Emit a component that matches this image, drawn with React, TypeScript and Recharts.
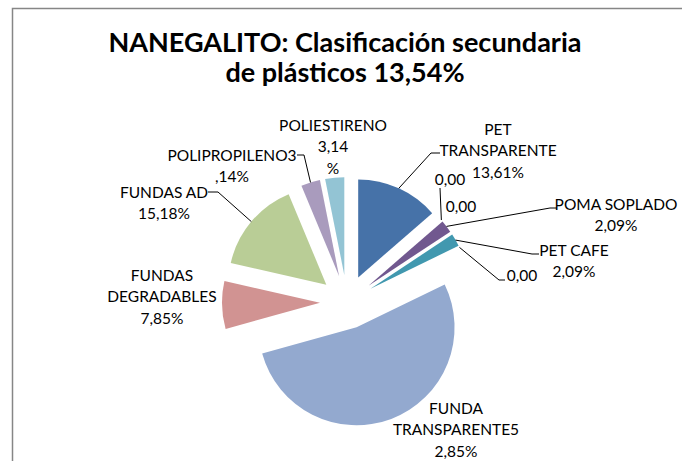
import React from 'react';
import { PieChart, Pie, Cell, Sector } from 'recharts';

// ---- data ----
const CATEGORIES = [
  'PET TRANSPARENTE', 'Otro 1', 'Otro 2', 'POMA SOPLADO', 'PET CAFE', 'Otro 3',
  'FUNDA TRANSPARENTE', 'FUNDAS DEGRADABLES', 'FUNDAS AD', 'POLIPROPILENO', 'POLIESTIRENO',
];
const VALUES = [13.61, 0, 0, 2.09, 2.09, 0, 52.85, 7.85, 15.18, 3.14, 3.14];
const LABEL_LINES = [
  ['PET', 'TRANSPARENTE', '13,61%'],
  ['0,00'],
  ['0,00'],
  ['POMA SOPLADO', '2,09%'],
  ['PET CAFE', '2,09%'],
  ['0,00'],
  ['FUNDA', 'TRANSPARENTE5', '2,85%'],
  ['FUNDAS', 'DEGRADABLES', '7,85%'],
  ['FUNDAS AD', '15,18%'],
  ['POLIPROPILENO3', ',14%'],
  ['POLIESTIRENO', '3,14', '%'],
];
const TITLE_LINES = ['NANEGALITO: Clasificación secundaria', 'de plásticos 13,54%'];

// ---- styles / layout ----
const COLORS = [
  '#4672A8', '#A94A47', '#8AA84F', '#71588F', '#4198AF', '#DB8438',
  '#93A9CF', '#D19392', '#B9CD96', '#A99BBD', '#93C4D4',
];
const W = 682;
const H = 461;
const CX = 347;
const CY = 302;
const R = 98;
const EXPLODE = 27;
const LABEL_FONT = 15.5;
const LINE_H = 21.5;
// first-line centre of each data label
const LABEL_POS: number[][] = [
  [498, 129], [450, 179], [461, 206], [616, 204], [574, 250], [522, 275],
  [456, 408], [162, 275], [164, 192], [232, 155], [333, 125],
];
// leader line points on the label side (slice end is computed)
const LEADERS: (number[][] | null)[] = [
  [[440, 153], [431, 153]],
  [[440, 188]],
  null,
  [[557, 208], [550, 208]],
  [[539, 254], [532, 254]],
  [[505, 280], [499, 280]],
  null,
  null,
  [[208, 192], [218, 192]],
  [[297, 155], [304, 155]],
  null,
];

const RAD = Math.PI / 180;
const data = CATEGORIES.map((name, i) => ({ name, value: VALUES[i] }));

const offsetOf = (midAngle: number) => ({
  dx: EXPLODE * Math.cos(-midAngle * RAD),
  dy: EXPLODE * Math.sin(-midAngle * RAD),
});

const renderSlice = (p: any) => {
  const { cx, cy, midAngle, startAngle, endAngle, innerRadius, outerRadius, index } = p;
  if (Math.abs(endAngle - startAngle) < 1e-6) return <g />;
  const { dx, dy } = offsetOf(midAngle);
  return (
    <Sector
      cx={cx + dx}
      cy={cy + dy}
      innerRadius={innerRadius}
      outerRadius={outerRadius}
      startAngle={startAngle}
      endAngle={endAngle}
      fill={COLORS[index]}
      stroke="none"
    />
  );
};

const renderText = (p: any) => {
  const { cx, cy, midAngle, outerRadius, index } = p;
  const { dx, dy } = offsetOf(midAngle);
  const ax = cx + dx + outerRadius * Math.cos(-midAngle * RAD);
  const ay = cy + dy + outerRadius * Math.sin(-midAngle * RAD);
  const [lx, ly] = LABEL_POS[index];
  const lines = LABEL_LINES[index];
  const leader = LEADERS[index];
  return (
    <g>
      {leader && (
        <polyline
          points={[...leader, [ax, ay]].map((pt) => pt.join(',')).join(' ')}
          fill="none"
          stroke="#000"
          strokeWidth={1}
        />
      )}
      <text textAnchor="middle" fontFamily="Lato, 'Open Sans', sans-serif" fontSize={LABEL_FONT} fill="#000">
        {lines.map((l, i) => (
          <tspan key={i} x={lx} y={ly + i * LINE_H} dy="0.36em">
            {l}
          </tspan>
        ))}
      </text>
    </g>
  );
};

export default function App() {
  return (
    <div style={{ position: 'absolute', left: 0, top: 0, width: W, height: H, background: '#fff' }}>
      <svg width={W} height={H} style={{ position: 'absolute', left: 0, top: 0 }}>
        <rect x={12.5} y={8.5} width={W + 20} height={H + 20} fill="#fff" stroke="#868686" strokeWidth={1.5} />
        <text textAnchor="middle" fontFamily="Lato, 'Open Sans', sans-serif" fontWeight={700} fontSize={27} fill="#000">
          <tspan x={345} y={52}>{TITLE_LINES[0]}</tspan>
          <tspan x={345} y={82}>{TITLE_LINES[1]}</tspan>
        </text>
      </svg>
      <div style={{ position: 'absolute', left: 0, top: 0 }}>
        <PieChart width={W} height={H} margin={{ top: 0, right: 0, bottom: 0, left: 0 }}>
          <Pie
            data={data}
            dataKey="value"
            nameKey="name"
            cx={CX}
            cy={CY}
            outerRadius={R}
            startAngle={90}
            endAngle={-270}
            stroke="none"
            isAnimationActive={false}
            label={renderSlice}
            labelLine={false}
          >
            {data.map((d) => (
              <Cell key={d.name} fill="transparent" stroke="none" />
            ))}
          </Pie>
          <Pie
            data={data}
            dataKey="value"
            nameKey="name"
            cx={CX}
            cy={CY}
            outerRadius={R}
            startAngle={90}
            endAngle={-270}
            stroke="none"
            isAnimationActive={false}
            label={renderText}
            labelLine={false}
          >
            {data.map((d) => (
              <Cell key={d.name} fill="transparent" stroke="none" />
            ))}
          </Pie>
        </PieChart>
      </div>
    </div>
  );
}
